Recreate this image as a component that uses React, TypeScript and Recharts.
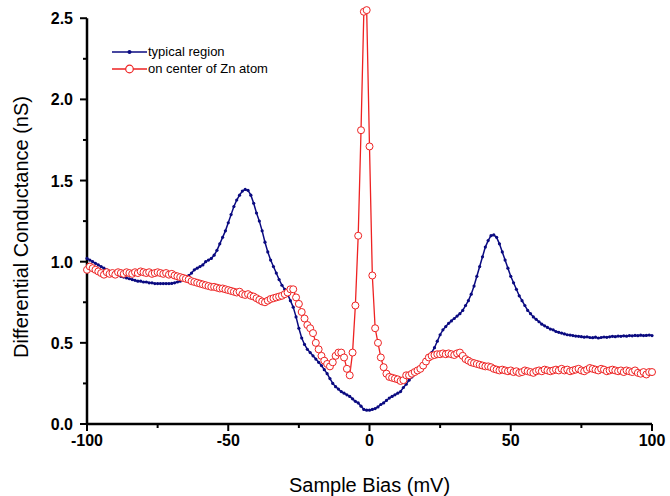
import { LineChart, Line, XAxis, YAxis, ReferenceLine } from 'recharts'

// sample bias grid, 1 mV steps from -100 to 100
const biasMv = Array.from({ length: 201 }, (_, i) => i - 100)

// typical region (nS)
const typicalRegion = [
  1.02, 1.01, 1.0, 0.99, 0.98, 0.97, 0.96, 0.95, 0.94, 0.93,
  0.93, 0.92, 0.91, 0.905, 0.9, 0.895, 0.89, 0.885, 0.88, 0.88,
  0.875, 0.875, 0.87, 0.87, 0.865, 0.865, 0.865, 0.865, 0.865, 0.865,
  0.866, 0.87, 0.875, 0.88, 0.89, 0.9, 0.915, 0.93, 0.95, 0.96,
  0.97, 0.98, 1.0, 1.01, 1.02, 1.04, 1.07, 1.11, 1.15, 1.19,
  1.24, 1.29, 1.34, 1.38, 1.41, 1.435, 1.445, 1.44, 1.41, 1.36,
  1.3, 1.25, 1.19, 1.12, 1.06, 1.01, 0.97, 0.93, 0.89, 0.855,
  0.83, 0.8, 0.76, 0.72, 0.66, 0.59, 0.53, 0.49, 0.46, 0.44,
  0.42, 0.4, 0.38, 0.36, 0.335, 0.31, 0.28, 0.25, 0.23, 0.215,
  0.2, 0.19, 0.18, 0.17, 0.155, 0.14, 0.13, 0.11, 0.09, 0.085,
  0.085, 0.09, 0.095, 0.105, 0.12, 0.13, 0.145, 0.16, 0.17, 0.18,
  0.19, 0.2, 0.225, 0.245, 0.27, 0.29, 0.315, 0.335, 0.355, 0.37,
  0.39, 0.41, 0.44, 0.47, 0.51, 0.55, 0.58, 0.6, 0.62, 0.635,
  0.65, 0.665, 0.68, 0.7, 0.73, 0.76, 0.8, 0.85, 0.91, 0.97,
  1.03, 1.09, 1.13, 1.16, 1.165, 1.15, 1.11, 1.06, 1.01, 0.96,
  0.91, 0.87, 0.83, 0.79, 0.76, 0.73, 0.7, 0.68, 0.66, 0.645,
  0.63, 0.615, 0.605, 0.595, 0.585, 0.58, 0.57, 0.565, 0.56, 0.555,
  0.55, 0.548, 0.545, 0.542, 0.54, 0.538, 0.535, 0.537, 0.533, 0.532,
  0.535, 0.53, 0.533, 0.536, 0.534, 0.537, 0.54, 0.538, 0.542, 0.54,
  0.543, 0.541, 0.545, 0.543, 0.546, 0.544, 0.547, 0.545, 0.546, 0.548, 0.545,
]

// on center of Zn atom (nS)
const znCenter = [
  0.95, 0.97, 0.96, 0.95, 0.94, 0.93, 0.92, 0.935, 0.925, 0.93,
  0.92, 0.935, 0.93, 0.925, 0.935, 0.93, 0.925, 0.935, 0.93, 0.94,
  0.935, 0.93, 0.935, 0.925, 0.93, 0.935, 0.93, 0.925, 0.93, 0.92,
  0.925, 0.915, 0.91, 0.905, 0.9, 0.895, 0.89, 0.88, 0.875, 0.87,
  0.865, 0.86, 0.855, 0.85, 0.845, 0.845, 0.84, 0.835, 0.835, 0.83,
  0.825, 0.82, 0.815, 0.81, 0.815, 0.8, 0.795, 0.8, 0.79, 0.785,
  0.775, 0.765, 0.755, 0.75, 0.76, 0.77, 0.775, 0.78, 0.785, 0.79,
  0.8, 0.81, 0.83, 0.83, 0.78, 0.74, 0.69, 0.65, 0.61, 0.59,
  0.56, 0.5, 0.46, 0.42, 0.39, 0.37, 0.355, 0.38, 0.42, 0.44,
  0.44, 0.41, 0.34, 0.3, 0.44, 0.73, 1.16, 1.81, 2.54, 2.55,
  1.71, 0.915, 0.59, 0.5, 0.41, 0.35, 0.31, 0.29, 0.285, 0.28,
  0.275, 0.265, 0.27, 0.3, 0.3, 0.31, 0.32, 0.33, 0.34, 0.36,
  0.385, 0.41, 0.42, 0.425, 0.43, 0.43, 0.435, 0.43, 0.435, 0.43,
  0.425, 0.435, 0.44, 0.42, 0.4, 0.39, 0.38, 0.375, 0.37, 0.365,
  0.36, 0.355, 0.355, 0.35, 0.34, 0.335, 0.33, 0.335, 0.33, 0.325,
  0.33, 0.32, 0.325, 0.315, 0.32, 0.33, 0.325, 0.32, 0.315, 0.325,
  0.33, 0.325, 0.335, 0.33, 0.325, 0.33, 0.335, 0.33, 0.34, 0.33,
  0.335, 0.325, 0.33, 0.335, 0.34, 0.33, 0.325, 0.335, 0.345, 0.34,
  0.335, 0.33, 0.34, 0.335, 0.325, 0.33, 0.335, 0.33, 0.325, 0.33,
  0.32, 0.33, 0.325, 0.32, 0.33, 0.315, 0.31, 0.32, 0.305, 0.32, 0.32,
]

const xTicks = [-100, -75, -50, -25, 0, 25, 50, 75, 100]
const yTicks = [0, 0.25, 0.5, 0.75, 1, 1.25, 1.5, 1.75, 2, 2.25, 2.5]

const BLUE = '#0a0a80'
const RED = '#ee2222'
const FONT = '"Liberation Sans", Arial, Helvetica, sans-serif'

const chartData = biasMv.map((b, i) => ({
  bias: b,
  typical: typicalRegion[i],
  zn: znCenter[i],
}))

const XTick = (props: any) => {
  const { x, y, payload } = props
  const major = payload.value % 50 === 0
  return (
    <g>
      <line x1={x} y1={y} x2={x} y2={y + (major ? 7 : 4)} stroke="#000" strokeWidth={2} />
      {major && (
        <text x={x} y={y + 22} textAnchor="middle" fontFamily={FONT} fontWeight="bold" fontSize={16} fill="#000">
          {payload.value}
        </text>
      )}
    </g>
  )
}

const YTick = (props: any) => {
  const { x, y, payload } = props
  const major = Math.round(payload.value * 100) % 50 === 0
  return (
    <g>
      <line x1={x} y1={y} x2={x - (major ? 7 : 4)} y2={y} stroke="#000" strokeWidth={2} />
      {major && (
        <text x={x - 14} y={y + 6} textAnchor="end" fontFamily={FONT} fontWeight="bold" fontSize={16} fill="#000">
          {payload.value.toFixed(1)}
        </text>
      )}
    </g>
  )
}

const YTitle = (props: any) => {
  const { viewBox } = props
  const cx = 28
  const cy = viewBox.y + viewBox.height / 2 + 14
  return (
    <text x={cx} y={cy} transform={`rotate(-90, ${cx}, ${cy})`} textAnchor="middle" fontFamily={FONT} fontSize={20} fill="#000">
      Differential Conductance (nS)
    </text>
  )
}

function ChartLegend() {
  return (
    <div style={{ position: 'absolute', left: 112, top: 43, fontFamily: FONT, fontSize: 13, lineHeight: '17px', color: '#000' }}>
      <div style={{ display: 'flex', alignItems: 'center' }}>
        <svg width={36} height={14}>
          <line x1={0} y1={7} x2={35} y2={7} stroke={BLUE} strokeWidth={1.5} />
          <circle cx={17.5} cy={7} r={2} fill={BLUE} />
        </svg>
        <span>typical region</span>
      </div>
      <div style={{ display: 'flex', alignItems: 'center' }}>
        <svg width={36} height={14}>
          <line x1={0} y1={7} x2={35} y2={7} stroke={RED} strokeWidth={1.5} />
          <circle cx={17.5} cy={7} r={3.8} fill="#fff" stroke={RED} strokeWidth={1.2} />
        </svg>
        <span>on center of Zn atom</span>
      </div>
    </div>
  )
}

export default function App() {
  return (
    <div style={{ position: 'absolute', left: 0, top: 0, width: 670, height: 496, background: '#fff' }}>
      <LineChart width={670} height={496} data={chartData} margin={{ top: 2, right: 18, bottom: 0, left: 0 }}>
        <XAxis
          dataKey="bias"
          type="number"
          domain={[-100, 100]}
          ticks={xTicks}
          interval={0}
          tickSize={0}
          tickMargin={0}
          tickLine={false}
          tick={<XTick />}
          axisLine={{ stroke: '#000', strokeWidth: 2.5 }}
          height={72}
          label={{ value: 'Sample Bias (mV)', position: 'insideBottom', offset: 4, fontFamily: FONT, fontSize: 20, fill: '#000' }}
        />
        <YAxis
          type="number"
          domain={[0, 2.6]}
          ticks={yTicks}
          interval={0}
          tickSize={0}
          tickMargin={0}
          tickLine={false}
          tick={<YTick />}
          axisLine={false}
          width={87}
          label={<YTitle />}
        />
        <ReferenceLine segment={[{ x: -100, y: 0 }, { x: -100, y: 2.5 }]} stroke="#000" strokeWidth={2.5} />
        <Line
          dataKey="typical"
          stroke={BLUE}
          strokeWidth={1.5}
          dot={{ r: 1.6, fill: BLUE, stroke: BLUE, strokeWidth: 0 }}
          isAnimationActive={false}
        />
        <Line
          dataKey="zn"
          stroke={RED}
          strokeWidth={1.3}
          dot={{ r: 3.5, fill: '#fff', stroke: RED, strokeWidth: 1 }}
          isAnimationActive={false}
        />
      </LineChart>
      <ChartLegend />
    </div>
  )
}
